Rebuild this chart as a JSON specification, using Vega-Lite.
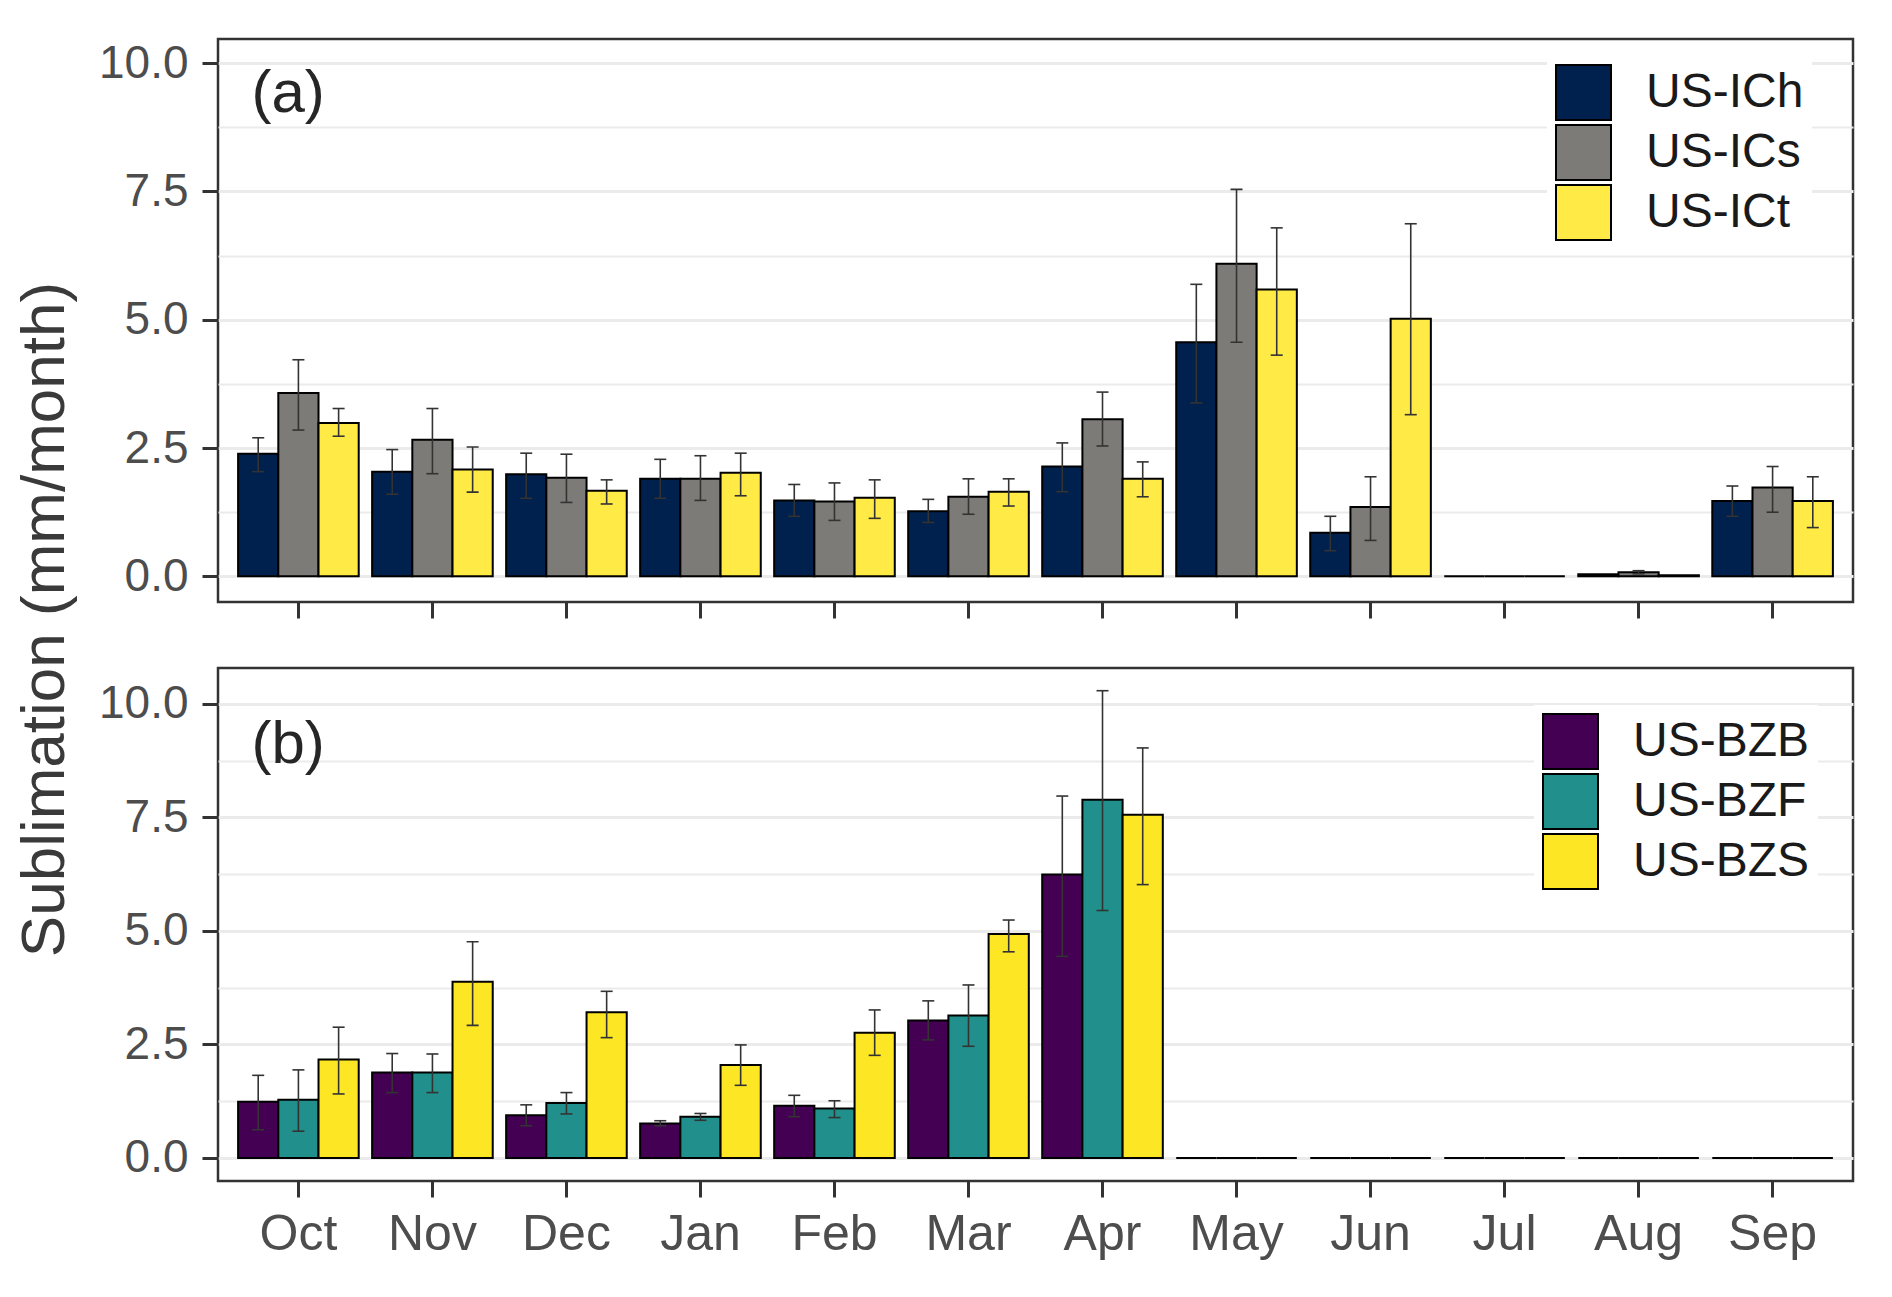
{
  "$schema": "https://vega.github.io/schema/vega-lite/v6.json",
  "padding": {"left": 12, "top": 37, "right": 38, "bottom": 30},
  "spacing": 66,
  "bounds": "flush",
  "config": {
    "font": "Liberation Sans",
    "view": {"stroke": "#333333", "strokeWidth": 2.5},
    "axis": {"labelFont": "Liberation Sans", "titleFont": "Liberation Sans"},
    "legend": {"labelFont": "Liberation Sans"}
  },
  "datasets": {
    "a": [
      {"month": "Oct", "site": "US-ICh", "val": 2.39, "lo": 2.04, "hi": 2.70},
      {"month": "Oct", "site": "US-ICs", "val": 3.57, "lo": 2.85, "hi": 4.22},
      {"month": "Oct", "site": "US-ICt", "val": 2.99, "lo": 2.73, "hi": 3.27},
      {"month": "Nov", "site": "US-ICh", "val": 2.04, "lo": 1.60, "hi": 2.47},
      {"month": "Nov", "site": "US-ICs", "val": 2.66, "lo": 2.00, "hi": 3.27},
      {"month": "Nov", "site": "US-ICt", "val": 2.08, "lo": 1.64, "hi": 2.52},
      {"month": "Dec", "site": "US-ICh", "val": 1.99, "lo": 1.52, "hi": 2.40},
      {"month": "Dec", "site": "US-ICs", "val": 1.92, "lo": 1.44, "hi": 2.38},
      {"month": "Dec", "site": "US-ICt", "val": 1.67, "lo": 1.41, "hi": 1.88},
      {"month": "Jan", "site": "US-ICh", "val": 1.90, "lo": 1.52, "hi": 2.28},
      {"month": "Jan", "site": "US-ICs", "val": 1.90, "lo": 1.48, "hi": 2.35},
      {"month": "Jan", "site": "US-ICt", "val": 2.02, "lo": 1.57, "hi": 2.40},
      {"month": "Feb", "site": "US-ICh", "val": 1.48, "lo": 1.17, "hi": 1.79},
      {"month": "Feb", "site": "US-ICs", "val": 1.46, "lo": 1.09, "hi": 1.82},
      {"month": "Feb", "site": "US-ICt", "val": 1.53, "lo": 1.13, "hi": 1.88},
      {"month": "Mar", "site": "US-ICh", "val": 1.27, "lo": 1.05, "hi": 1.50},
      {"month": "Mar", "site": "US-ICs", "val": 1.55, "lo": 1.21, "hi": 1.90},
      {"month": "Mar", "site": "US-ICt", "val": 1.65, "lo": 1.37, "hi": 1.90},
      {"month": "Apr", "site": "US-ICh", "val": 2.14, "lo": 1.65, "hi": 2.60},
      {"month": "Apr", "site": "US-ICs", "val": 3.06, "lo": 2.54, "hi": 3.59},
      {"month": "Apr", "site": "US-ICt", "val": 1.90, "lo": 1.55, "hi": 2.23},
      {"month": "May", "site": "US-ICh", "val": 4.56, "lo": 3.38, "hi": 5.69},
      {"month": "May", "site": "US-ICs", "val": 6.09, "lo": 4.56, "hi": 7.54},
      {"month": "May", "site": "US-ICt", "val": 5.59, "lo": 4.31, "hi": 6.79},
      {"month": "Jun", "site": "US-ICh", "val": 0.85, "lo": 0.50, "hi": 1.17},
      {"month": "Jun", "site": "US-ICs", "val": 1.35, "lo": 0.70, "hi": 1.94},
      {"month": "Jun", "site": "US-ICt", "val": 5.02, "lo": 3.15, "hi": 6.87},
      {"month": "Jul", "site": "US-ICh", "val": 0.0, "lo": null, "hi": null},
      {"month": "Jul", "site": "US-ICs", "val": 0.0, "lo": null, "hi": null},
      {"month": "Jul", "site": "US-ICt", "val": 0.0, "lo": null, "hi": null},
      {"month": "Aug", "site": "US-ICh", "val": 0.04, "lo": null, "hi": null},
      {"month": "Aug", "site": "US-ICs", "val": 0.08, "lo": 0.05, "hi": 0.11},
      {"month": "Aug", "site": "US-ICt", "val": 0.02, "lo": null, "hi": null},
      {"month": "Sep", "site": "US-ICh", "val": 1.47, "lo": 1.17, "hi": 1.76},
      {"month": "Sep", "site": "US-ICs", "val": 1.73, "lo": 1.25, "hi": 2.14},
      {"month": "Sep", "site": "US-ICt", "val": 1.47, "lo": 0.95, "hi": 1.94}
    ],
    "b": [
      {"month": "Oct", "site": "US-BZB", "val": 1.24, "lo": 0.62, "hi": 1.82},
      {"month": "Oct", "site": "US-BZF", "val": 1.28, "lo": 0.59, "hi": 1.94},
      {"month": "Oct", "site": "US-BZS", "val": 2.17, "lo": 1.41, "hi": 2.88},
      {"month": "Nov", "site": "US-BZB", "val": 1.88, "lo": 1.44, "hi": 2.30},
      {"month": "Nov", "site": "US-BZF", "val": 1.88, "lo": 1.44, "hi": 2.29},
      {"month": "Nov", "site": "US-BZS", "val": 3.88, "lo": 2.92, "hi": 4.76},
      {"month": "Dec", "site": "US-BZB", "val": 0.94, "lo": 0.71, "hi": 1.17},
      {"month": "Dec", "site": "US-BZF", "val": 1.21, "lo": 0.97, "hi": 1.44},
      {"month": "Dec", "site": "US-BZS", "val": 3.21, "lo": 2.65, "hi": 3.67},
      {"month": "Jan", "site": "US-BZB", "val": 0.76, "lo": 0.71, "hi": 0.82},
      {"month": "Jan", "site": "US-BZF", "val": 0.91, "lo": 0.83, "hi": 0.98},
      {"month": "Jan", "site": "US-BZS", "val": 2.05, "lo": 1.60, "hi": 2.49},
      {"month": "Feb", "site": "US-BZB", "val": 1.15, "lo": 0.91, "hi": 1.38},
      {"month": "Feb", "site": "US-BZF", "val": 1.09, "lo": 0.89, "hi": 1.26},
      {"month": "Feb", "site": "US-BZS", "val": 2.76, "lo": 2.26, "hi": 3.26},
      {"month": "Mar", "site": "US-BZB", "val": 3.03, "lo": 2.60, "hi": 3.46},
      {"month": "Mar", "site": "US-BZF", "val": 3.14, "lo": 2.46, "hi": 3.81},
      {"month": "Mar", "site": "US-BZS", "val": 4.93, "lo": 4.54, "hi": 5.24},
      {"month": "Apr", "site": "US-BZB", "val": 6.24, "lo": 4.44, "hi": 7.97},
      {"month": "Apr", "site": "US-BZF", "val": 7.89, "lo": 5.45, "hi": 10.29},
      {"month": "Apr", "site": "US-BZS", "val": 7.56, "lo": 6.02, "hi": 9.03},
      {"month": "May", "site": "US-BZB", "val": 0, "lo": null, "hi": null},
      {"month": "May", "site": "US-BZF", "val": 0, "lo": null, "hi": null},
      {"month": "May", "site": "US-BZS", "val": 0, "lo": null, "hi": null},
      {"month": "Jun", "site": "US-BZB", "val": 0, "lo": null, "hi": null},
      {"month": "Jun", "site": "US-BZF", "val": 0, "lo": null, "hi": null},
      {"month": "Jun", "site": "US-BZS", "val": 0, "lo": null, "hi": null},
      {"month": "Jul", "site": "US-BZB", "val": 0, "lo": null, "hi": null},
      {"month": "Jul", "site": "US-BZF", "val": 0, "lo": null, "hi": null},
      {"month": "Jul", "site": "US-BZS", "val": 0, "lo": null, "hi": null},
      {"month": "Aug", "site": "US-BZB", "val": 0, "lo": null, "hi": null},
      {"month": "Aug", "site": "US-BZF", "val": 0, "lo": null, "hi": null},
      {"month": "Aug", "site": "US-BZS", "val": 0, "lo": null, "hi": null},
      {"month": "Sep", "site": "US-BZB", "val": 0, "lo": null, "hi": null},
      {"month": "Sep", "site": "US-BZF", "val": 0, "lo": null, "hi": null},
      {"month": "Sep", "site": "US-BZS", "val": 0, "lo": null, "hi": null}
    ],
    "labA": [{"label": "(a)", "month": "Oct", "pos": 9.4}],
    "labB": [{"label": "(b)", "month": "Oct", "pos": 9.1}]
  },
  "resolve": {"scale": {"color": "independent", "y": "independent", "x": "independent", "xOffset": "independent"}, "legend": {"color": "independent"}},
  "vconcat": [
    {
      "width": 1635,
      "height": 563,
      "encoding": {
        "x": {
          "field": "month", "type": "nominal",
          "scale": {"domain": ["Oct","Nov","Dec","Jan","Feb","Mar","Apr","May","Jun","Jul","Aug","Sep"], "paddingInner": 0.1, "paddingOuter": 0.15},
          "axis": {"title": null, "labels": false, "domain": false, "bandPosition": 0.5, "tickSize": 16, "tickWidth": 3, "tickColor": "#333333", "gridColor": "#ebebeb", "gridWidth": 2.5}
        }
      },
      "layer": [
        {
          "data": {"name": "a"},
          "mark": {"type": "bar", "stroke": "black", "strokeWidth": 2},
          "encoding": {
            "xOffset": {"field": "site", "type": "nominal", "sort": ["US-ICh","US-ICs","US-ICt"]},
            "y": {
              "field": "val", "type": "quantitative",
              "scale": {"domain": [-0.5, 10.47], "nice": false, "zero": false},
              "axis": {
                "values": [0, 1.25, 2.5, 3.75, 5, 6.25, 7.5, 8.75, 10],
                "labelExpr": "datum.value % 2.5 === 0 ? format(datum.value, '.1f') : ''",
                "labelOverlap": false,
                "labelFontSize": 46, "labelColor": "#4d4d4d", "labelPadding": 14,
                "tickSize": 16, "tickWidth": 3, "tickColor": "#333333",
                "tickOpacity": {"condition": {"test": "datum.value % 2.5 !== 0", "value": 0}, "value": 1},
                "gridColor": "#ebebeb",
                "gridWidth": {"condition": {"test": "datum.value % 2.5 !== 0", "value": 1.8}, "value": 3},
                "domain": false,
                "title": "Sublimation (mm/month)",
                "titleFontSize": 62, "titleFontWeight": "normal", "titleColor": "#3a3a3a",
                "titlePadding": 22, "titleY": 580
              }
            },
            "color": {
              "field": "site", "type": "nominal",
              "scale": {"domain": ["US-ICh","US-ICs","US-ICt"], "range": ["#00204D","#7C7B78","#FFEA46"]},
              "legend": {
                "title": null, "orient": "none", "legendX": 1329, "legendY": 17,
                "padding": 8, "fillColor": "white",
                "symbolType": "square", "symbolSize": 3025, "symbolStrokeColor": "black", "symbolStrokeWidth": 2, "symbolOpacity": 1,
                "labelFontSize": 48, "labelColor": "#1a1a1a", "labelOffset": 34, "labelLimit": 400, "rowPadding": -4
              }
            }
          }
        },
        {
          "data": {"name": "a"},
          "transform": [{"filter": "isValid(datum.lo)"}],
          "mark": {"type": "rule", "color": "#333333", "strokeWidth": 1.6},
          "encoding": {
            "xOffset": {"field": "site", "type": "nominal", "sort": ["US-ICh","US-ICs","US-ICt"]},
            "y": {"field": "lo", "type": "quantitative"},
            "y2": {"field": "hi"}
          }
        },
        {
          "data": {"name": "a"},
          "transform": [{"filter": "isValid(datum.lo)"}],
          "mark": {"type": "tick", "color": "#333333", "size": 12, "thickness": 1.6, "opacity": 1},
          "encoding": {
            "xOffset": {"field": "site", "type": "nominal", "sort": ["US-ICh","US-ICs","US-ICt"]},
            "y": {"field": "lo", "type": "quantitative"}
          }
        },
        {
          "data": {"name": "a"},
          "transform": [{"filter": "isValid(datum.hi)"}],
          "mark": {"type": "tick", "color": "#333333", "size": 12, "thickness": 1.6, "opacity": 1},
          "encoding": {
            "xOffset": {"field": "site", "type": "nominal", "sort": ["US-ICh","US-ICs","US-ICt"]},
            "y": {"field": "hi", "type": "quantitative"}
          }
        },
        {
          "data": {"name": "labA"},
          "mark": {"type": "text", "align": "left", "baseline": "middle", "dx": -47, "fontSize": 60, "color": "#262626"},
          "encoding": {
            "y": {"field": "pos", "type": "quantitative"},
            "text": {"field": "label"}
          }
        }
      ]
    },
    {
      "width": 1635,
      "height": 513,
      "encoding": {
        "x": {
          "field": "month", "type": "nominal",
          "scale": {"domain": ["Oct","Nov","Dec","Jan","Feb","Mar","Apr","May","Jun","Jul","Aug","Sep"], "paddingInner": 0.1, "paddingOuter": 0.15},
          "axis": {"title": null, "labelAngle": 0, "labelFontSize": 50, "labelColor": "#4d4d4d", "labelPadding": 12, "domain": false, "bandPosition": 0.5, "tickSize": 16, "tickWidth": 3, "tickColor": "#333333", "gridColor": "#ebebeb", "gridWidth": 2.5}
        }
      },
      "layer": [
        {
          "data": {"name": "b"},
          "mark": {"type": "bar", "stroke": "black", "strokeWidth": 2},
          "encoding": {
            "xOffset": {"field": "site", "type": "nominal", "sort": ["US-BZB","US-BZF","US-BZS"]},
            "y": {
              "field": "val", "type": "quantitative",
              "scale": {"domain": [-0.507, 10.79], "nice": false, "zero": false},
              "axis": {
                "values": [0, 1.25, 2.5, 3.75, 5, 6.25, 7.5, 8.75, 10],
                "labelExpr": "datum.value % 2.5 === 0 ? format(datum.value, '.1f') : ''",
                "labelOverlap": false,
                "labelFontSize": 46, "labelColor": "#4d4d4d", "labelPadding": 14,
                "tickSize": 16, "tickWidth": 3, "tickColor": "#333333",
                "tickOpacity": {"condition": {"test": "datum.value % 2.5 !== 0", "value": 0}, "value": 1},
                "gridColor": "#ebebeb",
                "gridWidth": {"condition": {"test": "datum.value % 2.5 !== 0", "value": 1.8}, "value": 3},
                "domain": false,
                "title": null
              }
            },
            "color": {
              "field": "site", "type": "nominal",
              "scale": {"domain": ["US-BZB","US-BZF","US-BZS"], "range": ["#440154","#21908C","#FDE725"]},
              "legend": {
                "title": null, "orient": "none", "legendX": 1316, "legendY": 37,
                "padding": 8, "fillColor": "white",
                "symbolType": "square", "symbolSize": 3025, "symbolStrokeColor": "black", "symbolStrokeWidth": 2, "symbolOpacity": 1,
                "labelFontSize": 48, "labelColor": "#1a1a1a", "labelOffset": 34, "labelLimit": 400, "rowPadding": -4
              }
            }
          }
        },
        {
          "data": {"name": "b"},
          "transform": [{"filter": "isValid(datum.lo)"}],
          "mark": {"type": "rule", "color": "#333333", "strokeWidth": 1.6},
          "encoding": {
            "xOffset": {"field": "site", "type": "nominal", "sort": ["US-BZB","US-BZF","US-BZS"]},
            "y": {"field": "lo", "type": "quantitative"},
            "y2": {"field": "hi"}
          }
        },
        {
          "data": {"name": "b"},
          "transform": [{"filter": "isValid(datum.lo)"}],
          "mark": {"type": "tick", "color": "#333333", "size": 12, "thickness": 1.6, "opacity": 1},
          "encoding": {
            "xOffset": {"field": "site", "type": "nominal", "sort": ["US-BZB","US-BZF","US-BZS"]},
            "y": {"field": "lo", "type": "quantitative"}
          }
        },
        {
          "data": {"name": "b"},
          "transform": [{"filter": "isValid(datum.hi)"}],
          "mark": {"type": "tick", "color": "#333333", "size": 12, "thickness": 1.6, "opacity": 1},
          "encoding": {
            "xOffset": {"field": "site", "type": "nominal", "sort": ["US-BZB","US-BZF","US-BZS"]},
            "y": {"field": "hi", "type": "quantitative"}
          }
        },
        {
          "data": {"name": "labB"},
          "mark": {"type": "text", "align": "left", "baseline": "middle", "dx": -47, "fontSize": 60, "color": "#262626"},
          "encoding": {
            "y": {"field": "pos", "type": "quantitative"},
            "text": {"field": "label"}
          }
        }
      ]
    }
  ]
}
